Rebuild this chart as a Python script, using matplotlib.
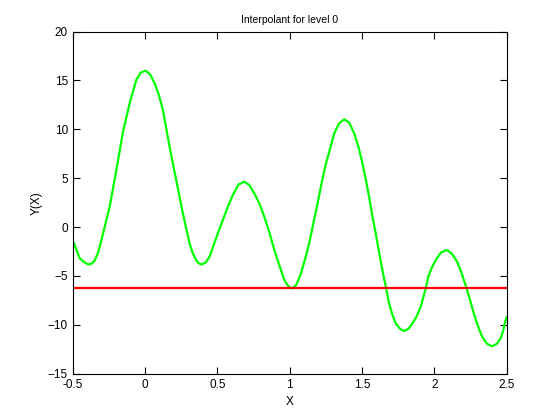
import numpy as np
import matplotlib.pyplot as plt

plt.rcParams['font.family'] = ['Liberation Sans', 'DejaVu Sans']

# points
x = [-0.5, -0.493, -0.47, -0.452, -0.42, -0.394, -0.37, -0.348, -0.325, -0.302,
     -0.275, -0.245, -0.199, -0.153, -0.107, -0.061, -0.03, 0.003, 0.035, 0.066,
     0.095, 0.123, 0.169, 0.215, 0.261, 0.307, 0.33, 0.353, 0.37, 0.390,
     0.42, 0.445, 0.47, 0.502, 0.537, 0.57, 0.606, 0.645, 0.686, 0.720,
     0.755, 0.79, 0.824, 0.86, 0.893, 0.93, 0.962, 0.990, 1.015, 1.045,
     1.077, 1.105, 1.134, 1.163, 1.192, 1.22, 1.25, 1.28, 1.307, 1.341,
     1.376, 1.41, 1.445, 1.475, 1.502, 1.525, 1.548, 1.57, 1.594, 1.62,
     1.640, 1.665, 1.686, 1.71, 1.732, 1.762, 1.79, 1.82, 1.847, 1.875,
     1.905, 1.939, 1.957, 1.98, 2.008, 2.045, 2.084, 2.12, 2.157, 2.185,
     2.215, 2.245, 2.272, 2.30, 2.330, 2.365, 2.399, 2.43, 2.457, 2.475,
     2.491, 2.5]
y = [-1.5, -1.6, -2.5, -3.2, -3.6, -3.82, -3.75, -3.4, -2.6, -1.33,
     0.3, 2.08, 5.83, 9.75, 12.66, 15.05, 15.8, 16.0, 15.6, 14.7,
     13.5, 11.97, 8.2, 4.8, 1.4, -1.67, -2.7, -3.38, -3.7, -3.82,
     -3.6, -3.04, -2.0, -0.65, 0.72, 2.0, 3.28, 4.35, 4.64, 4.3,
     3.45, 2.4, 1.05, -0.6, -2.35, -4.0, -5.42, -6.05, -6.28, -5.9,
     -4.74, -3.3, -1.67, 0.4, 2.43, 4.5, 6.52, 8.1, 9.59, 10.6,
     11.02, 10.7, 9.59, 8.2, 6.52, 4.9, 3.1, 1.2, -0.65, -2.8,
     -4.4, -6.2, -7.8, -9.0, -9.85, -10.4, -10.63, -10.4, -9.85, -9.2,
     -8.15, -6.28, -5.08, -4.2, -3.38, -2.6, -2.35, -2.7, -3.55, -4.6,
     -5.94, -7.4, -8.83, -10.1, -11.23, -11.95, -12.18, -11.95, -11.39, -10.6,
     -9.52, -9.2]

level = -6.2
level_x = [-0.5, 2.5]

fig = plt.figure(figsize=(5.6, 4.2), dpi=100)
ax = fig.add_axes([0.13, 0.11, 0.775, 0.815])
ax.plot(x, y, color=(0, 1, 0), lw=1.6)
ax.plot(level_x, [level, level], color=(1, 0, 0), lw=1.6)

ax.set_xlim(-0.5, 2.5)
ax.set_ylim(-15, 20)
ax.set_xticks([-0.5, 0, 0.5, 1, 1.5, 2, 2.5])
ax.set_xticklabels(['-0.5', '0', '0.5', '1', '1.5', '2', '2.5'])
ax.set_yticks(range(-15, 21, 5))
ax.tick_params(direction='in', top=True, right=True, length=5, labelsize=8.5, width=0.8)
for s in ax.spines.values():
    s.set_linewidth(0.8)
ax.set_xlabel('X', fontsize=8.5)
ax.set_ylabel('Y(X)', fontsize=8.5)
ax.set_title('Interpolant for level 0', fontsize=7.5)

fig.savefig('out.png', dpi=100)
